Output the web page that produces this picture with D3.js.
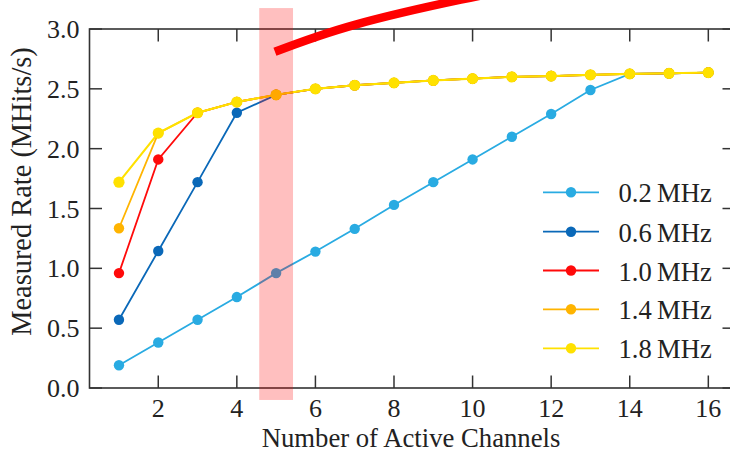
<!DOCTYPE html>
<html>
<head>
<meta charset="utf-8">
<script src="https://cdn.jsdelivr.net/npm/d3@7"></script>
<style>
  html, body { margin: 0; padding: 0; background: #fff; }
  svg { display: block; font-family: "Liberation Serif", "Times New Roman", serif; }
</style>
</head>
<body>
<svg id="chart" width="730" height="452"></svg>
<script>
// ---- data ----
const channels = [1, 2, 3, 4, 5, 6, 7, 8, 9, 10, 11, 12, 13, 14, 15, 16];
const seriesNames = ["0.2\u2009MHz", "0.6\u2009MHz", "1.0\u2009MHz", "1.4\u2009MHz", "1.8\u2009MHz"];
const seriesColors = ["#29abe2", "#0a68b8", "#ff0a0a", "#ffb400", "#ffe100"];
const rate02 = [0.19, 0.38, 0.57, 0.76, 0.96, 1.14, 1.33, 1.53, 1.72, 1.91, 2.10, 2.29, 2.49, 2.625, 2.63, 2.636];
const rate06 = [0.57, 1.145, 1.72, 2.30, 2.45, 2.50, 2.53, 2.55, 2.57, 2.585, 2.60, 2.607, 2.617, 2.625, 2.63, 2.636];
const rate10 = [0.96, 1.91, 2.30, 2.39, 2.45, 2.50, 2.53, 2.55, 2.57, 2.585, 2.60, 2.607, 2.617, 2.625, 2.63, 2.636];
const rate14 = [1.335, 2.13, 2.30, 2.39, 2.45, 2.50, 2.53, 2.55, 2.57, 2.585, 2.60, 2.607, 2.617, 2.625, 2.63, 2.636];
const rate18 = [1.72, 2.13, 2.30, 2.39, 2.45, 2.50, 2.53, 2.55, 2.57, 2.585, 2.60, 2.607, 2.617, 2.625, 2.63, 2.636];
const xTicks = [2, 4, 6, 8, 10, 12, 14, 16];
const yTicks = [0.0, 0.5, 1.0, 1.5, 2.0, 2.5, 3.0];
const xLabel = "Number of Active Channels";
const yLabel = "Measured Rate (MHits/s)";
const highlightRange = [4.57, 5.43];   // shaded band (channels)
const arrowPath = [[4.97, 2.81], [7.0, 3.035], [9.7, 3.245], [11.2, 3.34]];

const allSeries = [rate02, rate06, rate10, rate14, rate18];

// ---- layout ----
const svg = d3.select("#chart");
const pLeft = 89.5, pRight = 735, pTop = 29, pBottom = 388;
const x = d3.scaleLinear().domain([0.25, 0.25 + (pRight - pLeft) / 39.29]).range([pLeft, pRight]);
const y = d3.scaleLinear().domain([0, 3]).range([pBottom, pTop]);

const axisColor = "#333";
const fontSize = 26;

// data lines & markers
const line = d3.line().x((d, i) => x(channels[i])).y(d => y(d));
allSeries.forEach((vals, si) => {
  const top = si === allSeries.length - 1;
  svg.append("path")
    .attr("d", line(vals))
    .attr("fill", "none")
    .attr("stroke", seriesColors[si])
    .attr("stroke-width", top ? 2.1 : 1.8);
  svg.append("g").selectAll("circle")
    .data(vals)
    .join("circle")
    .attr("cx", (d, i) => x(channels[i]))
    .attr("cy", d => y(d))
    .attr("r", top ? 5.6 : 5.2)
    .attr("fill", seriesColors[si]);
});

// spines
const frame = svg.append("g").attr("stroke", axisColor).attr("stroke-width", 1.6).attr("fill", "none");
frame.append("rect").attr("x", pLeft).attr("y", pTop).attr("width", pRight - pLeft).attr("height", pBottom - pTop);

// ticks (inward)
const tl = 12.5;
const tg = svg.append("g").attr("stroke", axisColor).attr("stroke-width", 1.5);
xTicks.forEach(t => {
  tg.append("line").attr("x1", x(t)).attr("x2", x(t)).attr("y1", pBottom).attr("y2", pBottom - tl);
  tg.append("line").attr("x1", x(t)).attr("x2", x(t)).attr("y1", pTop).attr("y2", pTop + tl);
});
yTicks.forEach(t => {
  tg.append("line").attr("x1", pLeft).attr("x2", pLeft + tl).attr("y1", y(t)).attr("y2", y(t));
  tg.append("line").attr("x1", pRight).attr("x2", pRight - tl).attr("y1", y(t)).attr("y2", y(t));
});

// tick labels
svg.append("g").selectAll("text").data(xTicks).join("text")
  .attr("x", d => x(d)).attr("y", pBottom + 29)
  .attr("text-anchor", "middle")
  .attr("font-size", fontSize).attr("fill", "#222")
  .text(d => d);
svg.append("g").selectAll("text").data(yTicks).join("text")
  .attr("x", pLeft - 10).attr("y", d => y(d) + 9)
  .attr("text-anchor", "end")
  .attr("font-size", fontSize).attr("fill", "#222")
  .text(d => d.toFixed(1));

// axis labels
svg.append("text")
  .attr("x", 411).attr("y", 447)
  .attr("text-anchor", "middle")
  .attr("font-size", 26.7).attr("fill", "#222")
  .text(xLabel);
svg.append("text")
  .attr("transform", "translate(31,191.5) rotate(-90)")
  .attr("text-anchor", "middle")
  .attr("font-size", 28.4).attr("fill", "#222")
  .text(yLabel);

// legend
const legRows = [192.3, 231.7, 270.5, 309.3, 348.3];
seriesNames.forEach((name, i) => {
  const g = svg.append("g");
  g.append("line").attr("x1", 543).attr("x2", 599).attr("y1", legRows[i]).attr("y2", legRows[i])
    .attr("stroke", seriesColors[i]).attr("stroke-width", 1.8);
  g.append("circle").attr("cx", 571).attr("cy", legRows[i]).attr("r", 5.2).attr("fill", seriesColors[i]);
  g.append("text").attr("x", 618.5).attr("y", legRows[i] + 10)
    .attr("font-size", 26.6).attr("fill", "#222").text(name);
});

// highlight band (over data)
svg.append("rect")
  .attr("x", x(highlightRange[0]))
  .attr("width", x(highlightRange[1]) - x(highlightRange[0]))
  .attr("y", y(3.175))
  .attr("height", y(-0.1) - y(3.175))
  .attr("fill", "rgba(255,0,0,0.25)");

// red annotation curve
svg.append("path")
  .attr("d", d3.line().x(d => x(d[0])).y(d => y(d[1])).curve(d3.curveNatural)(arrowPath))
  .attr("fill", "none")
  .attr("stroke", "#ff0000")
  .attr("stroke-width", 8.5);
</script>
</body>
</html>
